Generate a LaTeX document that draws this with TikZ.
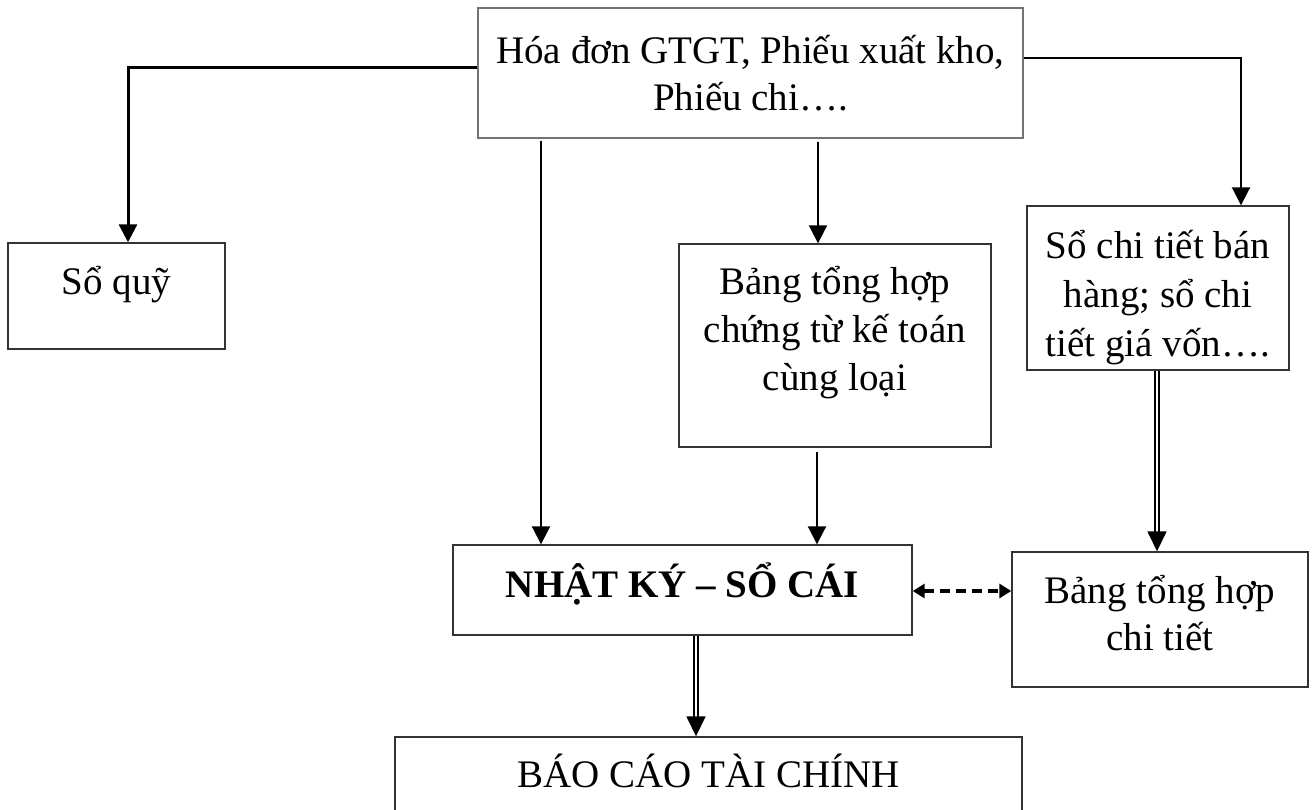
\documentclass[tikz,border=0pt]{standalone}
\usepackage{fontspec}
\setmainfont{Liberation Serif}
\usetikzlibrary{arrows.meta,calc}
\begin{document}
\begin{tikzpicture}[x=1pt,y=-1pt,
  box/.style={draw=black!80,line width=1.4pt,inner sep=0pt,fill=white},
  srcbox/.style={box,draw=black!55},
  txt/.style={inner sep=0pt,anchor=base,font=\fontsize{39}{48}\selectfont},
  arr/.style={line width=2pt,-{Triangle[width=18pt,length=18pt]}},
  arrthick/.style={line width=3pt,-{Triangle[width=18pt,length=18pt]}},
  dblarr/.style={double,double distance=2.6pt,line width=1.6pt,-{Triangle[width=19pt,length=20pt]}},
  dasharr/.style={line width=3.5pt,dash pattern=on 10pt off 6pt,{Triangle[width=14pt,length=12pt]}-{Triangle[width=14pt,length=12pt]}}
]
\useasboundingbox (0,0) rectangle (1315,809);

% boxes
\node[srcbox,minimum width=545pt,minimum height=130pt] (src) at (750.5,73) {};
\node[box,minimum width=217pt,minimum height=106pt] (quy) at (116.5,296) {};
\node[box,minimum width=312pt,minimum height=203pt] (bth1) at (835,345.5) {};
\node[box,minimum width=262pt,minimum height=164pt] (sct) at (1158,288) {};
\node[box,minimum width=459pt,minimum height=90pt] (nk) at (682.5,590) {};
\node[box,minimum width=296pt,minimum height=135pt] (bthct) at (1160,619.5) {};
\node[box,minimum width=627pt,minimum height=110pt] (bctc) at (708.5,792) {};

% texts
\node[txt] (src1) at (750.5,63) {Hóa đơn GTGT, Phiếu xuất kho,};
\node[txt] (src2) at (750.5,110) {Phiếu chi….};
\node[txt] (quyt) at (116.5,294) {Sổ quỹ};
\node[txt] (bth1a) at (835,294) {Bảng tổng hợp};
\node[txt] (bth1b) at (835,342) {chứng từ kế toán};
\node[txt] (bth1c) at (835,390) {cùng loại};
\node[txt] (scta) at (1158,258) {Sổ chi tiết bán};
\node[txt] (sctb) at (1158,307) {hàng; sổ chi};
\node[txt] (sctc) at (1158,356) {tiết giá vốn….};
\node[txt,font=\fontsize{39}{48}\selectfont\bfseries] (nkt) at (682.5,597) {NHẬT KÝ – SỔ CÁI};
\node[txt] (bthcta) at (1160,603) {Bảng tổng hợp};
\node[txt] (bthctb) at (1160,650) {chi tiết};
\node[txt] (bctct) at (708.5,787) {BÁO CÁO TÀI CHÍNH};

% connector bends and columns
\coordinate (lc) at (128,67);
\coordinate (rc) at (1241,58);
\coordinate (c1) at (541,0);
\coordinate (c2) at (818,0);
\coordinate (c3) at (817,0);
\coordinate (c4) at (1157,0);
\coordinate (c5) at (696,0);
\coordinate (dy) at (0,591);

% connectors
\draw[arrthick] (src.west |- lc) -- (lc) -- (lc |- quy.north);
\draw[arr] (src.east |- rc) -- (rc) -- (rc |- sct.north);
\draw[arr,shorten <=2pt] (src.south -| c1) -- (c1 |- nk.north);
\draw[arr,shorten <=3pt] (src.south -| c2) -- (c2 |- bth1.north);
\draw[arr,shorten <=4pt] (bth1.south -| c3) -- (c3 |- nk.north);
\draw[dblarr] (sct.south -| c4) -- (c4 |- bthct.north);
\draw[dblarr] (nk.south -| c5) -- (c5 |- bctc.north);
\draw[dasharr] (nk.east |- dy) -- (bthct.west |- dy);
\end{tikzpicture}
\end{document}
